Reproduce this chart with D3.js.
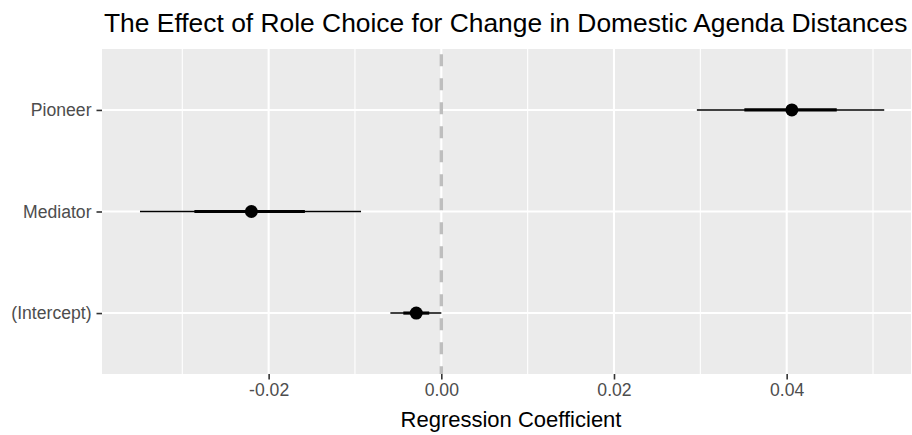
<!DOCTYPE html>
<html>
<head>
<meta charset="utf-8">
<script src="https://cdn.jsdelivr.net/npm/d3@7"></script>
<style>
  body { margin: 0; background: #fff; }
  svg { display: block; font-family: "Liberation Sans", Arial, sans-serif; }
</style>
</head>
<body>
<svg width="912" height="435"></svg>
<script>
// coefficient estimates
const terms = ["Pioneer", "Mediator", "(Intercept)"];
const estimate = [0.0406, -0.0220, -0.0029];
const outerLo = [0.0296, -0.0349, -0.0059];
const outerHi = [0.0513, -0.0093, 0.0000];
const innerLo = [0.0351, -0.0286, -0.0044];
const innerHi = [0.0458, -0.0158, -0.0014];
const xTicks = [-0.02, 0, 0.02, 0.04];
const xMinor = [-0.03, -0.01, 0.01, 0.03, 0.05];

const rows = terms.map((t, i) => ({
    term: t, est: estimate[i],
    lo: outerLo[i], hi: outerHi[i],
    lo2: innerLo[i], hi2: innerHi[i]
}));

const svg = d3.select("svg");
const panel = { left: 102, right: 911, top: 49, bottom: 374 };

const x = d3.scaleLinear()
    .domain([-0.0393, 0.0544])
    .range([panel.left, panel.right]);

const y = d3.scalePoint()
    .domain(terms)
    .range([panel.top, panel.bottom])
    .padding(0.6);

// panel background
svg.append("rect")
    .attr("x", panel.left)
    .attr("y", panel.top)
    .attr("width", panel.right - panel.left)
    .attr("height", panel.bottom - panel.top)
    .attr("fill", "#EBEBEB");

// grid lines
const grid = svg.append("g").attr("stroke", "#fff");
grid.selectAll(".minor")
    .data(xMinor)
    .join("line")
    .attr("x1", d => x(d)).attr("x2", d => x(d))
    .attr("y1", panel.top).attr("y2", panel.bottom)
    .attr("stroke-width", 1.1);
grid.selectAll(".major")
    .data(xTicks)
    .join("line")
    .attr("x1", d => x(d)).attr("x2", d => x(d))
    .attr("y1", panel.top).attr("y2", panel.bottom)
    .attr("stroke-width", 2.1);
grid.selectAll(".hmajor")
    .data(terms)
    .join("line")
    .attr("x1", panel.left).attr("x2", panel.right)
    .attr("y1", d => y(d)).attr("y2", d => y(d))
    .attr("stroke-width", 2.1);

// zero reference line
svg.append("line")
    .attr("x1", x(0)).attr("x2", x(0))
    .attr("y1", panel.top).attr("y2", panel.bottom)
    .attr("stroke", "#BEBEBE")
    .attr("stroke-width", 3.4)
    .attr("stroke-dasharray", "12,12")
    .attr("stroke-dashoffset", 18.7);

// intervals and points
const marks = svg.append("g");
marks.selectAll(".outer")
    .data(rows)
    .join("line")
    .attr("x1", d => x(d.lo)).attr("x2", d => x(d.hi))
    .attr("y1", d => y(d.term)).attr("y2", d => y(d.term))
    .attr("stroke", "#000")
    .attr("stroke-width", 1.6);
marks.selectAll(".inner")
    .data(rows)
    .join("line")
    .attr("x1", d => x(d.lo2)).attr("x2", d => x(d.hi2))
    .attr("y1", d => y(d.term)).attr("y2", d => y(d.term))
    .attr("stroke", "#000")
    .attr("stroke-width", 3.2);
marks.selectAll("circle")
    .data(rows)
    .join("circle")
    .attr("cx", d => x(d.est))
    .attr("cy", d => y(d.term))
    .attr("r", 6.5)
    .attr("fill", "#000");

// x axis (plain hyphen for negatives, like R)
const fmt = d3.format(".2f");
const xAxis = svg.append("g")
    .attr("transform", `translate(0,${panel.bottom})`)
    .call(d3.axisBottom(x).tickValues(xTicks).tickSize(5.5).tickPadding(4)
        .tickFormat(d => fmt(d).replace("\u2212", "-")));
xAxis.select(".domain").remove();
xAxis.selectAll(".tick line").attr("stroke", "#333").attr("stroke-width", 1.6);
xAxis.selectAll(".tick text")
    .attr("fill", "#4D4D4D")
    .attr("font-size", 17.6)
    .attr("font-family", null);

// y axis
const yAxis = svg.append("g")
    .attr("transform", `translate(${panel.left},0)`)
    .call(d3.axisLeft(y).tickSize(5.5).tickPadding(5));
yAxis.select(".domain").remove();
yAxis.selectAll(".tick line").attr("stroke", "#333").attr("stroke-width", 1.6);
yAxis.selectAll(".tick text")
    .attr("fill", "#4D4D4D")
    .attr("font-size", 17.6)
    .attr("font-family", null);

// titles
svg.append("text")
    .attr("x", 104)
    .attr("y", 32)
    .attr("font-size", 26.4)
    .attr("fill", "#000")
    .text("The Effect of Role Choice for Change in Domestic Agenda Distances");

svg.append("text")
    .attr("x", 511)
    .attr("y", 427)
    .attr("text-anchor", "middle")
    .attr("font-size", 22)
    .attr("fill", "#000")
    .text("Regression Coefficient");
</script>
</body>
</html>
